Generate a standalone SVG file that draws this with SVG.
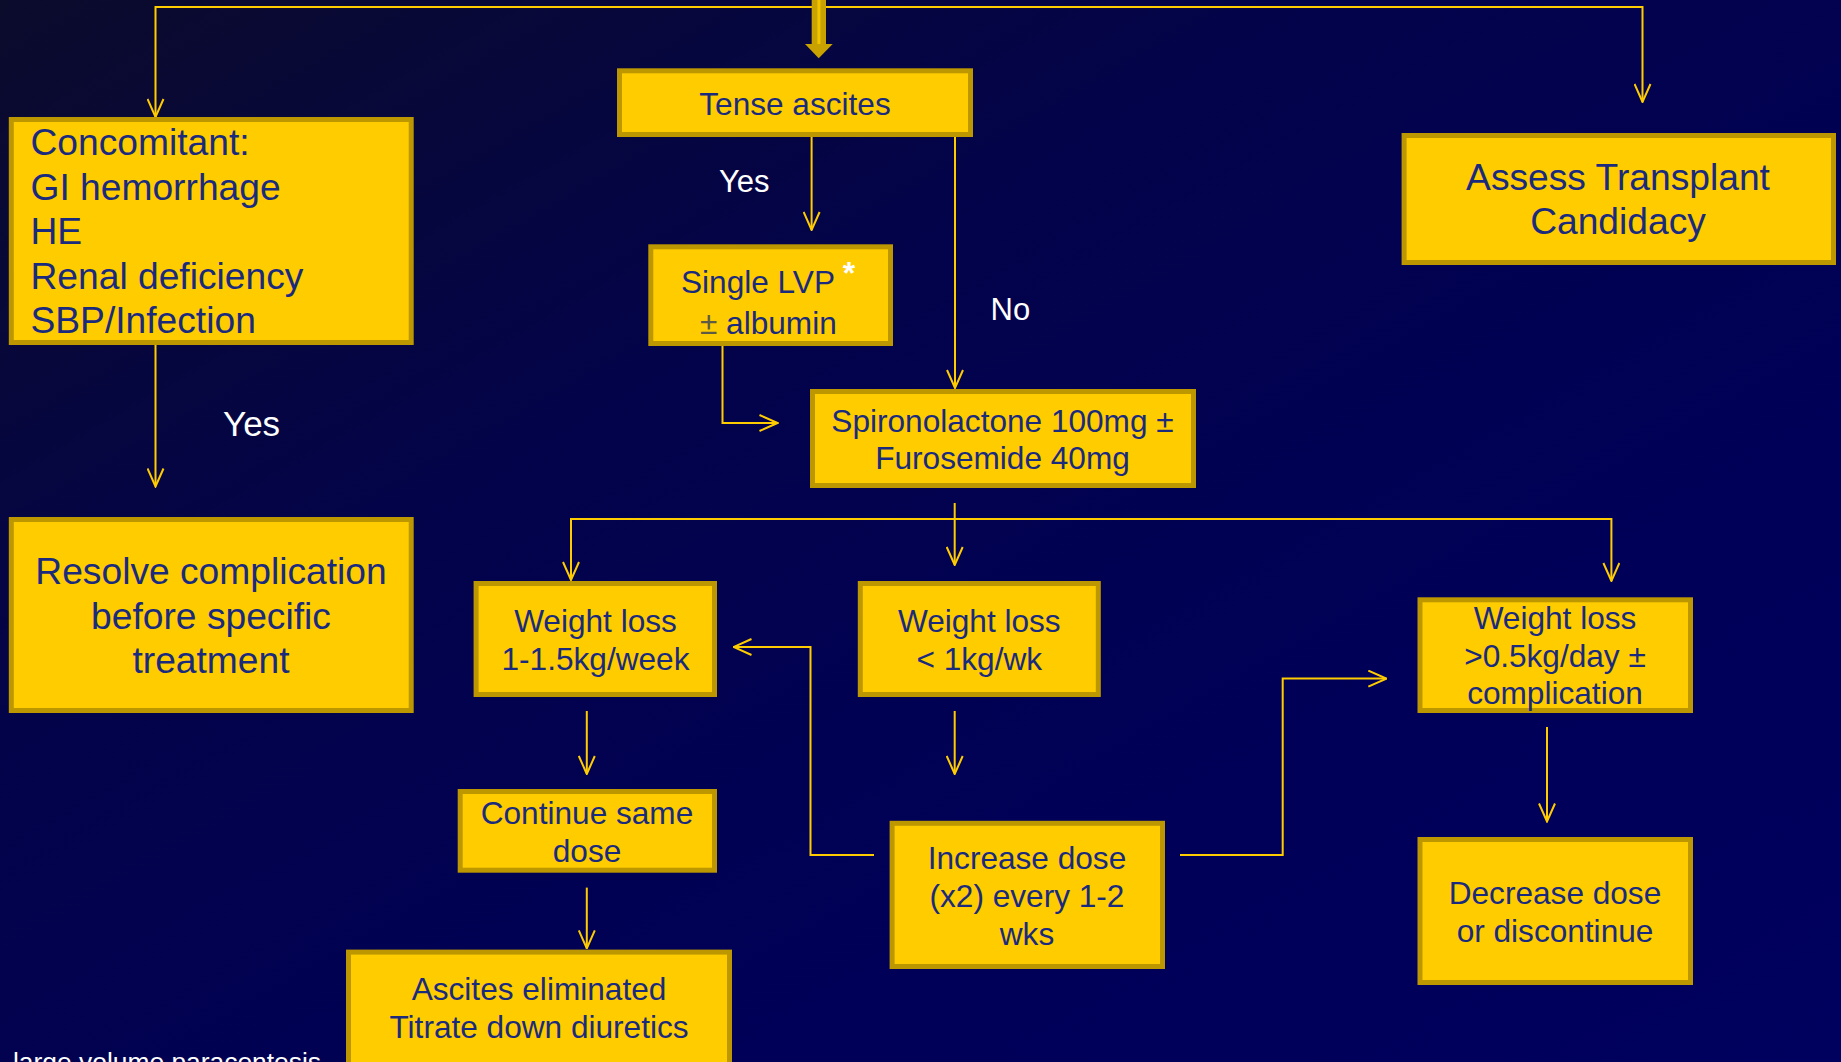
<svg xmlns="http://www.w3.org/2000/svg" width="1841" height="1062" viewBox="0 0 1841 1062">
<defs>
<linearGradient id="bg" x1="0" y1="0" x2="1" y2="1">
<stop offset="0" stop-color="#0b0b2c"/>
<stop offset="0.35" stop-color="#03034a"/>
<stop offset="0.7" stop-color="#000058"/>
<stop offset="1" stop-color="#00005e"/>
</linearGradient>
<marker id="ah" markerUnits="userSpaceOnUse" viewBox="0 0 20 18" refX="19" refY="9" markerWidth="20" markerHeight="18" orient="auto">
<path d="M1,1 L19,9 L1,17" fill="none" stroke="#FFCC00" stroke-width="2"/>
</marker>
<style>
.box{fill:#FFCC00;stroke:#BD9700;stroke-width:5}
.t{font-family:"Liberation Sans",Arial,sans-serif;fill:#1A2B7E}
.c{text-anchor:middle}
.m{font-size:31.6px}
.l{font-size:37.2px}
.w{font-family:"Liberation Sans",Arial,sans-serif;fill:#FFFFFF}
.cn{fill:none;stroke:#FFCC00;stroke-width:2}
.cn.a{marker-end:url(#ah)}
</style>
</defs>
<rect x="0" y="0" width="1841" height="1062" fill="url(#bg)"/>

<g id="connectors">
<path class="cn a" d="M818.7,7 H155.5 V117"/>
<path class="cn a" d="M818.7,7 H1642.5 V102"/>
<path class="cn a" d="M811.6,137 V230"/>
<path class="cn a" d="M955,137 V388"/>
<path class="cn a" d="M722.5,346 V423 H777.5"/>
<path class="cn a" d="M155.5,345 V486.5"/>
<path class="cn a" d="M954.7,503 V565"/>
<path class="cn a" d="M954.7,519 H571 V580"/>
<path class="cn a" d="M954.7,519 H1611.4 V581"/>
<path class="cn a" d="M586.8,711 V774"/>
<path class="cn a" d="M586.8,887.6 V948.4"/>
<path class="cn a" d="M954.7,711 V774"/>
<path class="cn a" d="M874,855 H810.5 V647 H733.5"/>
<path class="cn a" d="M1180,855 H1282.7 V678.6 H1386.3"/>
<path class="cn a" d="M1547,727 V821.5"/>
<g id="entry-arrow">
<rect x="811.7" y="0" width="14.3" height="45" fill="#C9A200"/>
<line x1="818.9" y1="0" x2="818.9" y2="50" stroke="#F2C400" stroke-width="3"/>
<polygon points="805,44 832.7,44 818.7,58.3" fill="#C9A200"/>
</g>
</g>

<g id="concomitant">
<rect class="box" x="11.3" y="119.5" width="399.9" height="223"/>
<text class="t l" x="30.5" y="155">Concomitant:</text>
<text class="t l" x="30.5" y="199.5">GI hemorrhage</text>
<text class="t l" x="30.5" y="244">HE</text>
<text class="t l" x="30.5" y="288.5">Renal deficiency</text>
<text class="t l" x="30.5" y="333">SBP/Infection</text>
</g>

<g id="tense">
<rect class="box" x="619.5" y="70.8" width="351" height="63.7"/>
<text class="t m c" x="795" y="115">Tense ascites</text>
</g>

<g id="single-lvp">
<rect class="box" x="650.8" y="246.8" width="239.7" height="96.7"/>
<text class="t m" x="681" y="292.7">Single LVP</text>
<text class="w" x="849" y="284" font-size="32" font-weight="bold" text-anchor="middle">*</text>
<text class="t m" x="700" y="334"><tspan fill="#5d5a45">±</tspan> albumin</text>
</g>

<g id="spironolactone">
<rect class="box" x="812.5" y="391.5" width="381" height="94"/>
<text class="t m c" x="1002.5" y="432">Spironolactone 100mg ±</text>
<text class="t m c" x="1002.5" y="469">Furosemide 40mg</text>
</g>

<g id="assess">
<rect class="box" x="1404.1" y="135.5" width="429.4" height="127"/>
<text class="t l c" x="1618" y="190">Assess Transplant</text>
<text class="t l c" x="1618" y="234">Candidacy</text>
</g>

<g id="resolve">
<rect class="box" x="11.3" y="519.5" width="399.9" height="191"/>
<text class="t l c" x="211" y="584">Resolve complication</text>
<text class="t l c" x="211" y="628.5">before specific</text>
<text class="t l c" x="211" y="673">treatment</text>
</g>

<g id="wl-1">
<rect class="box" x="476.1" y="583.5" width="238.4" height="111"/>
<text class="t m c" x="595.5" y="632">Weight loss</text>
<text class="t m c" x="595.5" y="670">1-1.5kg/week</text>
</g>

<g id="wl-2">
<rect class="box" x="860.3" y="583.5" width="238" height="111"/>
<text class="t m c" x="979.3" y="632">Weight loss</text>
<text class="t m c" x="979.3" y="670">&lt; 1kg/wk</text>
</g>

<g id="wl-3">
<rect class="box" x="1420" y="599.8" width="270.5" height="110.7"/>
<text class="t m c" x="1555" y="629">Weight loss</text>
<text class="t m c" x="1555" y="666.5">&gt;0.5kg/day ±</text>
<text class="t m c" x="1555" y="704">complication</text>
</g>

<g id="continue">
<rect class="box" x="460.2" y="791.5" width="254.3" height="78.7"/>
<text class="t m c" x="587" y="824">Continue same</text>
<text class="t m c" x="587" y="862">dose</text>
</g>

<g id="increase">
<rect class="box" x="892.1" y="823.3" width="270.4" height="143.2"/>
<text class="t m c" x="1027" y="868.5">Increase dose</text>
<text class="t m c" x="1027" y="906.5">(x2) every 1-2</text>
<text class="t m c" x="1027" y="944.5">wks</text>
</g>

<g id="decrease">
<rect class="box" x="1420" y="839.5" width="270.5" height="143"/>
<text class="t m c" x="1555" y="904">Decrease dose</text>
<text class="t m c" x="1555" y="942">or discontinue</text>
</g>

<g id="ascites-eliminated">
<rect class="box" x="348.5" y="952.1" width="381" height="130"/>
<text class="t m c" x="539" y="1000">Ascites eliminated</text>
<text class="t m c" x="539" y="1037.5">Titrate down diuretics</text>
</g>

<g id="labels">
<text class="w" x="719" y="191.7" font-size="31">Yes</text>
<text class="w" x="990.5" y="320" font-size="31">No</text>
<text class="w" x="223" y="436" font-size="35">Yes</text>
<text class="w" x="13" y="1071" font-size="26.4">large volume paracentesis</text>
</g>
</svg>
